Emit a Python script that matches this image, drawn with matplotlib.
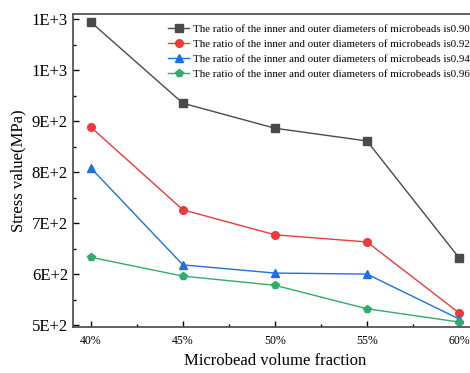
import matplotlib
matplotlib.use('Agg')
import matplotlib.pyplot as plt
from matplotlib.ticker import FuncFormatter, MultipleLocator

plt.rcParams['font.family'] = ['Liberation Serif', 'DejaVu Serif']

# volume fraction (%) and stress values (MPa)
fractions = [40, 45, 50, 55, 60]
ratios = ['0.90', '0.92', '0.94', '0.96']
stress_090 = [1094, 935, 886, 861, 632]
stress_092 = [888, 726, 677, 663, 524]
stress_094 = [808, 618, 602, 600, 512]
stress_096 = [633, 596, 578, 532, 506]

colors = ['#4a4a4a', '#f0393b', '#1f6fe0', '#2fae6b']
markers = ['s', 'o', '^', 'p']

fig = plt.figure(figsize=(4.7, 3.73), dpi=100)
ax = fig.add_axes([0.155, 0.123, 1.015 - 0.155, 0.9625 - 0.123])

for vals, r, c, m in zip([stress_090, stress_092, stress_094, stress_096], ratios, colors, markers):
    ax.plot(fractions, vals, color=c, marker=m, markersize=5.5, linewidth=1,
            label='The ratio of the inner and outer diameters of microbeads is' + r)

ax.set_xlim(39.02, 60.98)
ax.set_ylim(496, 1110)
ax.set_xticks(fractions)
ax.set_xticklabels([f'{f}%' for f in fractions])
ax.xaxis.set_minor_locator(MultipleLocator(2.5))
ax.set_yticks(range(500, 1101, 100))
ax.yaxis.set_minor_locator(MultipleLocator(50))
ax.yaxis.set_major_formatter(FuncFormatter(lambda v, p: f'{v:.0E}'.replace('E+0', 'E+')))

ax.tick_params(which='both', direction='in', top=False, right=False)
ax.tick_params(which='major', length=4, width=1)
ax.tick_params(which='minor', length=2.5, width=1)
ax.tick_params(axis='y', labelsize=12)
ax.tick_params(axis='x', labelsize=8.5, pad=6)
for s in ax.spines.values():
    s.set_linewidth(1.3)
    s.set_color('#555555')

ax.set_xlabel('Microbead volume fraction', fontsize=12)
ax.set_ylabel('Stress value(MPa)', fontsize=12)

ax.legend(loc='upper left', bbox_to_anchor=(0.357, 0.934), bbox_transform=fig.transFigure,
          frameon=False, fontsize=7.8, handlelength=2, handletextpad=0.3,
          labelspacing=0.48, borderpad=0, borderaxespad=0)

fig.savefig('out.png', dpi=100)
